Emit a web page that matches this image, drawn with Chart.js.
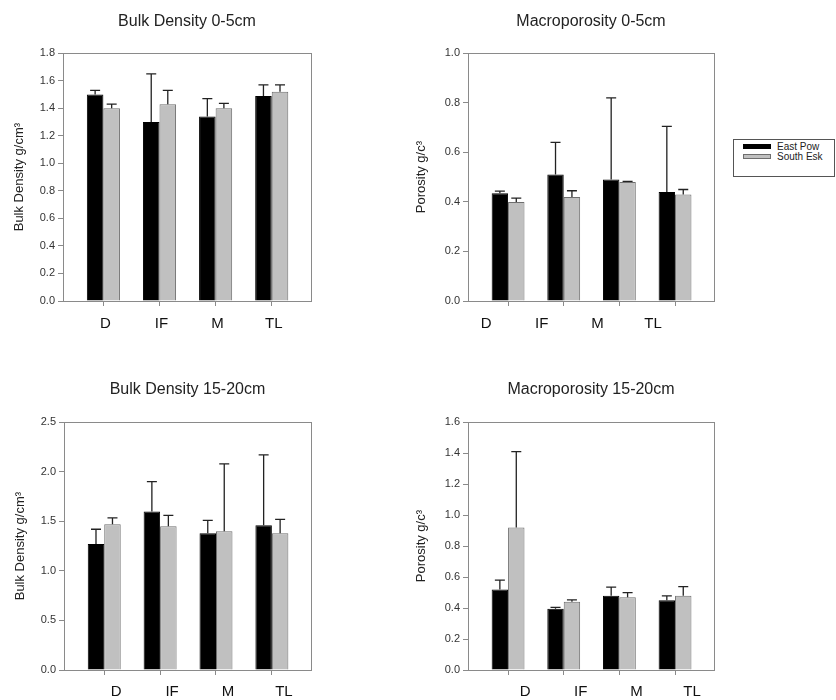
<!DOCTYPE html>
<html lang="en">
<head>
<meta charset="utf-8" />
<title>Bulk density and macroporosity</title>
<script src="https://cdn.jsdelivr.net/npm/chart.js@4.4.1/dist/chart.umd.min.js"></script>
<style>
  body { margin: 0; background: #fff; }
  #page { position: relative; width: 836px; height: 700px; overflow: hidden; }
  #page canvas { position: absolute; }
  #legend {
    position: absolute; left: 733px; top: 139px; width: 102px; height: 38px;
    border: 1px solid #555; box-sizing: border-box; padding-top: 1px;
    font: 10px "Liberation Sans", Arial, sans-serif; color: #222;
  }
  #legend .item { display: flex; align-items: center; height: 10px; margin-left: 9px; }
  #legend .swatch { width: 28px; height: 5px; border: 1px solid; box-sizing: border-box; margin-right: 6px; }
</style>
</head>
<body>
<div id="page">
  <canvas id="c1" width="325" height="340" style="left:0;top:0"></canvas>
  <canvas id="c2" width="345" height="340" style="left:380px;top:0"></canvas>
  <canvas id="c3" width="325" height="360" style="left:0;top:340px"></canvas>
  <canvas id="c4" width="345" height="360" style="left:380px;top:340px"></canvas>
  <div id="legend"></div>
</div>

<script>
  // values (mean, +error)
  var categories = ['D', 'IF', 'M', 'TL'];
  var seriesNames = ['East Pow', 'South Esk'];

  var bd05East = [1.50, 1.30, 1.34, 1.49];
  var bd05EastErr = [0.03, 0.35, 0.13, 0.08];
  var bd05South = [1.40, 1.43, 1.40, 1.52];
  var bd05SouthErr = [0.03, 0.10, 0.035, 0.05];

  var mp05East = [0.435, 0.51, 0.49, 0.44];
  var mp05EastErr = [0.008, 0.13, 0.33, 0.265];
  var mp05South = [0.40, 0.42, 0.48, 0.43];
  var mp05SouthErr = [0.015, 0.025, 0.003, 0.02];

  var bd1520East = [1.27, 1.60, 1.38, 1.46];
  var bd1520EastErr = [0.15, 0.30, 0.13, 0.71];
  var bd1520South = [1.47, 1.45, 1.40, 1.38];
  var bd1520SouthErr = [0.065, 0.11, 0.68, 0.14];

  var mp1520East = [0.52, 0.395, 0.48, 0.45];
  var mp1520EastErr = [0.06, 0.01, 0.055, 0.028];
  var mp1520South = [0.92, 0.44, 0.47, 0.48];
  var mp1520SouthErr = [0.49, 0.013, 0.03, 0.058];

  var FONT = '"Liberation Sans", Arial, sans-serif';
  var AXIS = '#8a8a8a';

  var frame = {
    id: 'frame',
    beforeDatasetsDraw: function(chart) {
      var ctx = chart.ctx, a = chart.chartArea;
      ctx.save();
      ctx.strokeStyle = AXIS;
      ctx.lineWidth = 1;
      ctx.strokeRect(Math.round(a.left) + 0.5, Math.round(a.top) + 0.5,
                     Math.round(a.right - a.left), Math.round(a.bottom - a.top));
      ctx.restore();
    }
  };

  // upward error bars with a cap
  var errorBars = {
    id: 'errorBars',
    afterDatasetsDraw: function(chart) {
      var ctx = chart.ctx, y = chart.scales.y;
      chart.data.datasets.forEach(function(ds, i) {
        chart.getDatasetMeta(i).data.forEach(function(bar, j) {
          var top = y.getPixelForValue(ds.data[j].y + ds.errors[j]);
          ctx.save();
          ctx.strokeStyle = '#222';
          ctx.lineWidth = 1.3;
          ctx.beginPath();
          ctx.moveTo(bar.x, bar.y);
          ctx.lineTo(bar.x, top);
          ctx.moveTo(bar.x - 5, top);
          ctx.lineTo(bar.x + 5, top);
          ctx.stroke();
          ctx.restore();
        });
      });
    }
  };

  var htmlLegend = {
    id: 'htmlLegend',
    afterUpdate: function(chart) {
      var box = document.getElementById('legend');
      box.innerHTML = '';
      chart.options.plugins.legend.labels.generateLabels(chart).forEach(function(item) {
        var row = document.createElement('div');
        row.className = 'item';
        var sw = document.createElement('span');
        sw.className = 'swatch';
        sw.style.background = item.fillStyle;
        sw.style.borderColor = item.strokeStyle;
        var txt = document.createElement('span');
        txt.textContent = item.text;
        row.appendChild(sw);
        row.appendChild(txt);
        box.appendChild(row);
      });
    }
  };

  function points(vals) {
    return vals.map(function(v, i) { return { x: i, y: v }; });
  }

  function makeChart(p) {
    var plugins = [frame, errorBars];
    if (p.legend) plugins.push(htmlLegend);
    return new Chart(document.getElementById(p.id), {
      type: 'bar',
      data: {
        datasets: [
          {
            label: seriesNames[0], data: points(p.east), errors: p.eastErr,
            backgroundColor: '#000', borderColor: '#000', borderWidth: 1
          },
          {
            label: seriesNames[1], data: points(p.south), errors: p.southErr,
            backgroundColor: '#c0c0c0', borderColor: '#6e6e6e', borderWidth: 1
          }
        ]
      },
      options: {
        responsive: false,
        animation: false,
        categoryPercentage: 0.59,
        barPercentage: 1.0,
        layout: { padding: { left: 0, right: p.rightPad, top: 0, bottom: 0 } },
        plugins: {
          legend: { display: false },
          tooltip: { enabled: false },
          title: {
            display: true, fullSize: false, text: p.title, color: '#222',
            font: { family: FONT, size: 16, weight: 'normal' },
            padding: p.titlePad
          }
        },
        scales: {
          x: {
            type: 'linear', min: -0.72, max: 3.7, offset: false,
            afterBuildTicks: function(s) {
              s.ticks = categories.map(function(c, i) { return { value: i }; });
            },
            afterFit: function(s) { s.height = p.xHeight; },
            grid: { offset: false, drawOnChartArea: false, drawTicks: true, tickLength: 5, color: AXIS },
            border: { display: false },
            ticks: {
              callback: function(v) { return categories[v]; },
              labelOffset: p.labelOffset, padding: p.labelPad, maxRotation: 0,
              color: '#111', font: { family: FONT, size: 15 }
            }
          },
          y: {
            min: 0, max: p.yMax,
            afterFit: function(s) { s.width = p.yWidth; },
            grid: { drawOnChartArea: false, drawTicks: true, tickLength: 5, color: AXIS },
            border: { display: false },
            ticks: {
              stepSize: p.yStep, padding: 3, color: '#333',
              font: { family: FONT, size: 11 },
              callback: function(v) { return v.toFixed(1); }
            },
            title: {
              display: true, text: p.yTitle, color: '#222',
              font: { family: FONT, size: 13 },
              padding: { top: p.yTitlePad, bottom: 0 }
            }
          }
        }
      },
      plugins: plugins
    });
  }

  makeChart({
    id: 'c1', title: 'Bulk Density 0-5cm', titlePad: { top: 12, bottom: 22 },
    yTitle: 'Bulk Density g/cm\u00b3', yTitlePad: 12, yWidth: 63, xHeight: 39,
    yMax: 1.8, yStep: 0.2, rightPad: 14, labelOffset: 2, labelPad: 9,
    east: bd05East, eastErr: bd05EastErr, south: bd05South, southErr: bd05SouthErr
  });

  makeChart({
    id: 'c2', title: 'Macroporosity 0-5cm', titlePad: { top: 12, bottom: 22 },
    yTitle: 'Porosity g/c\u00b3', yTitlePad: 34, yWidth: 88, xHeight: 39,
    yMax: 1.0, yStep: 0.2, rightPad: 11, labelOffset: -22, labelPad: 9, legend: true,
    east: mp05East, eastErr: mp05EastErr, south: mp05South, southErr: mp05SouthErr
  });

  makeChart({
    id: 'c3', title: 'Bulk Density 15-20cm', titlePad: { top: 40, bottom: 23 },
    yTitle: 'Bulk Density g/cm\u00b3', yTitlePad: 13, yWidth: 64, xHeight: 30,
    yMax: 2.5, yStep: 0.5, rightPad: 14, labelOffset: 12, labelPad: 8,
    east: bd1520East, eastErr: bd1520EastErr, south: bd1520South, southErr: bd1520SouthErr
  });

  makeChart({
    id: 'c4', title: 'Macroporosity 15-20cm', titlePad: { top: 40, bottom: 23 },
    yTitle: 'Porosity g/c\u00b3', yTitlePad: 34, yWidth: 88, xHeight: 30,
    yMax: 1.6, yStep: 0.2, rightPad: 11, labelOffset: 17, labelPad: 8,
    east: mp1520East, eastErr: mp1520EastErr, south: mp1520South, southErr: mp1520SouthErr
  });
</script>
</body>
</html>
